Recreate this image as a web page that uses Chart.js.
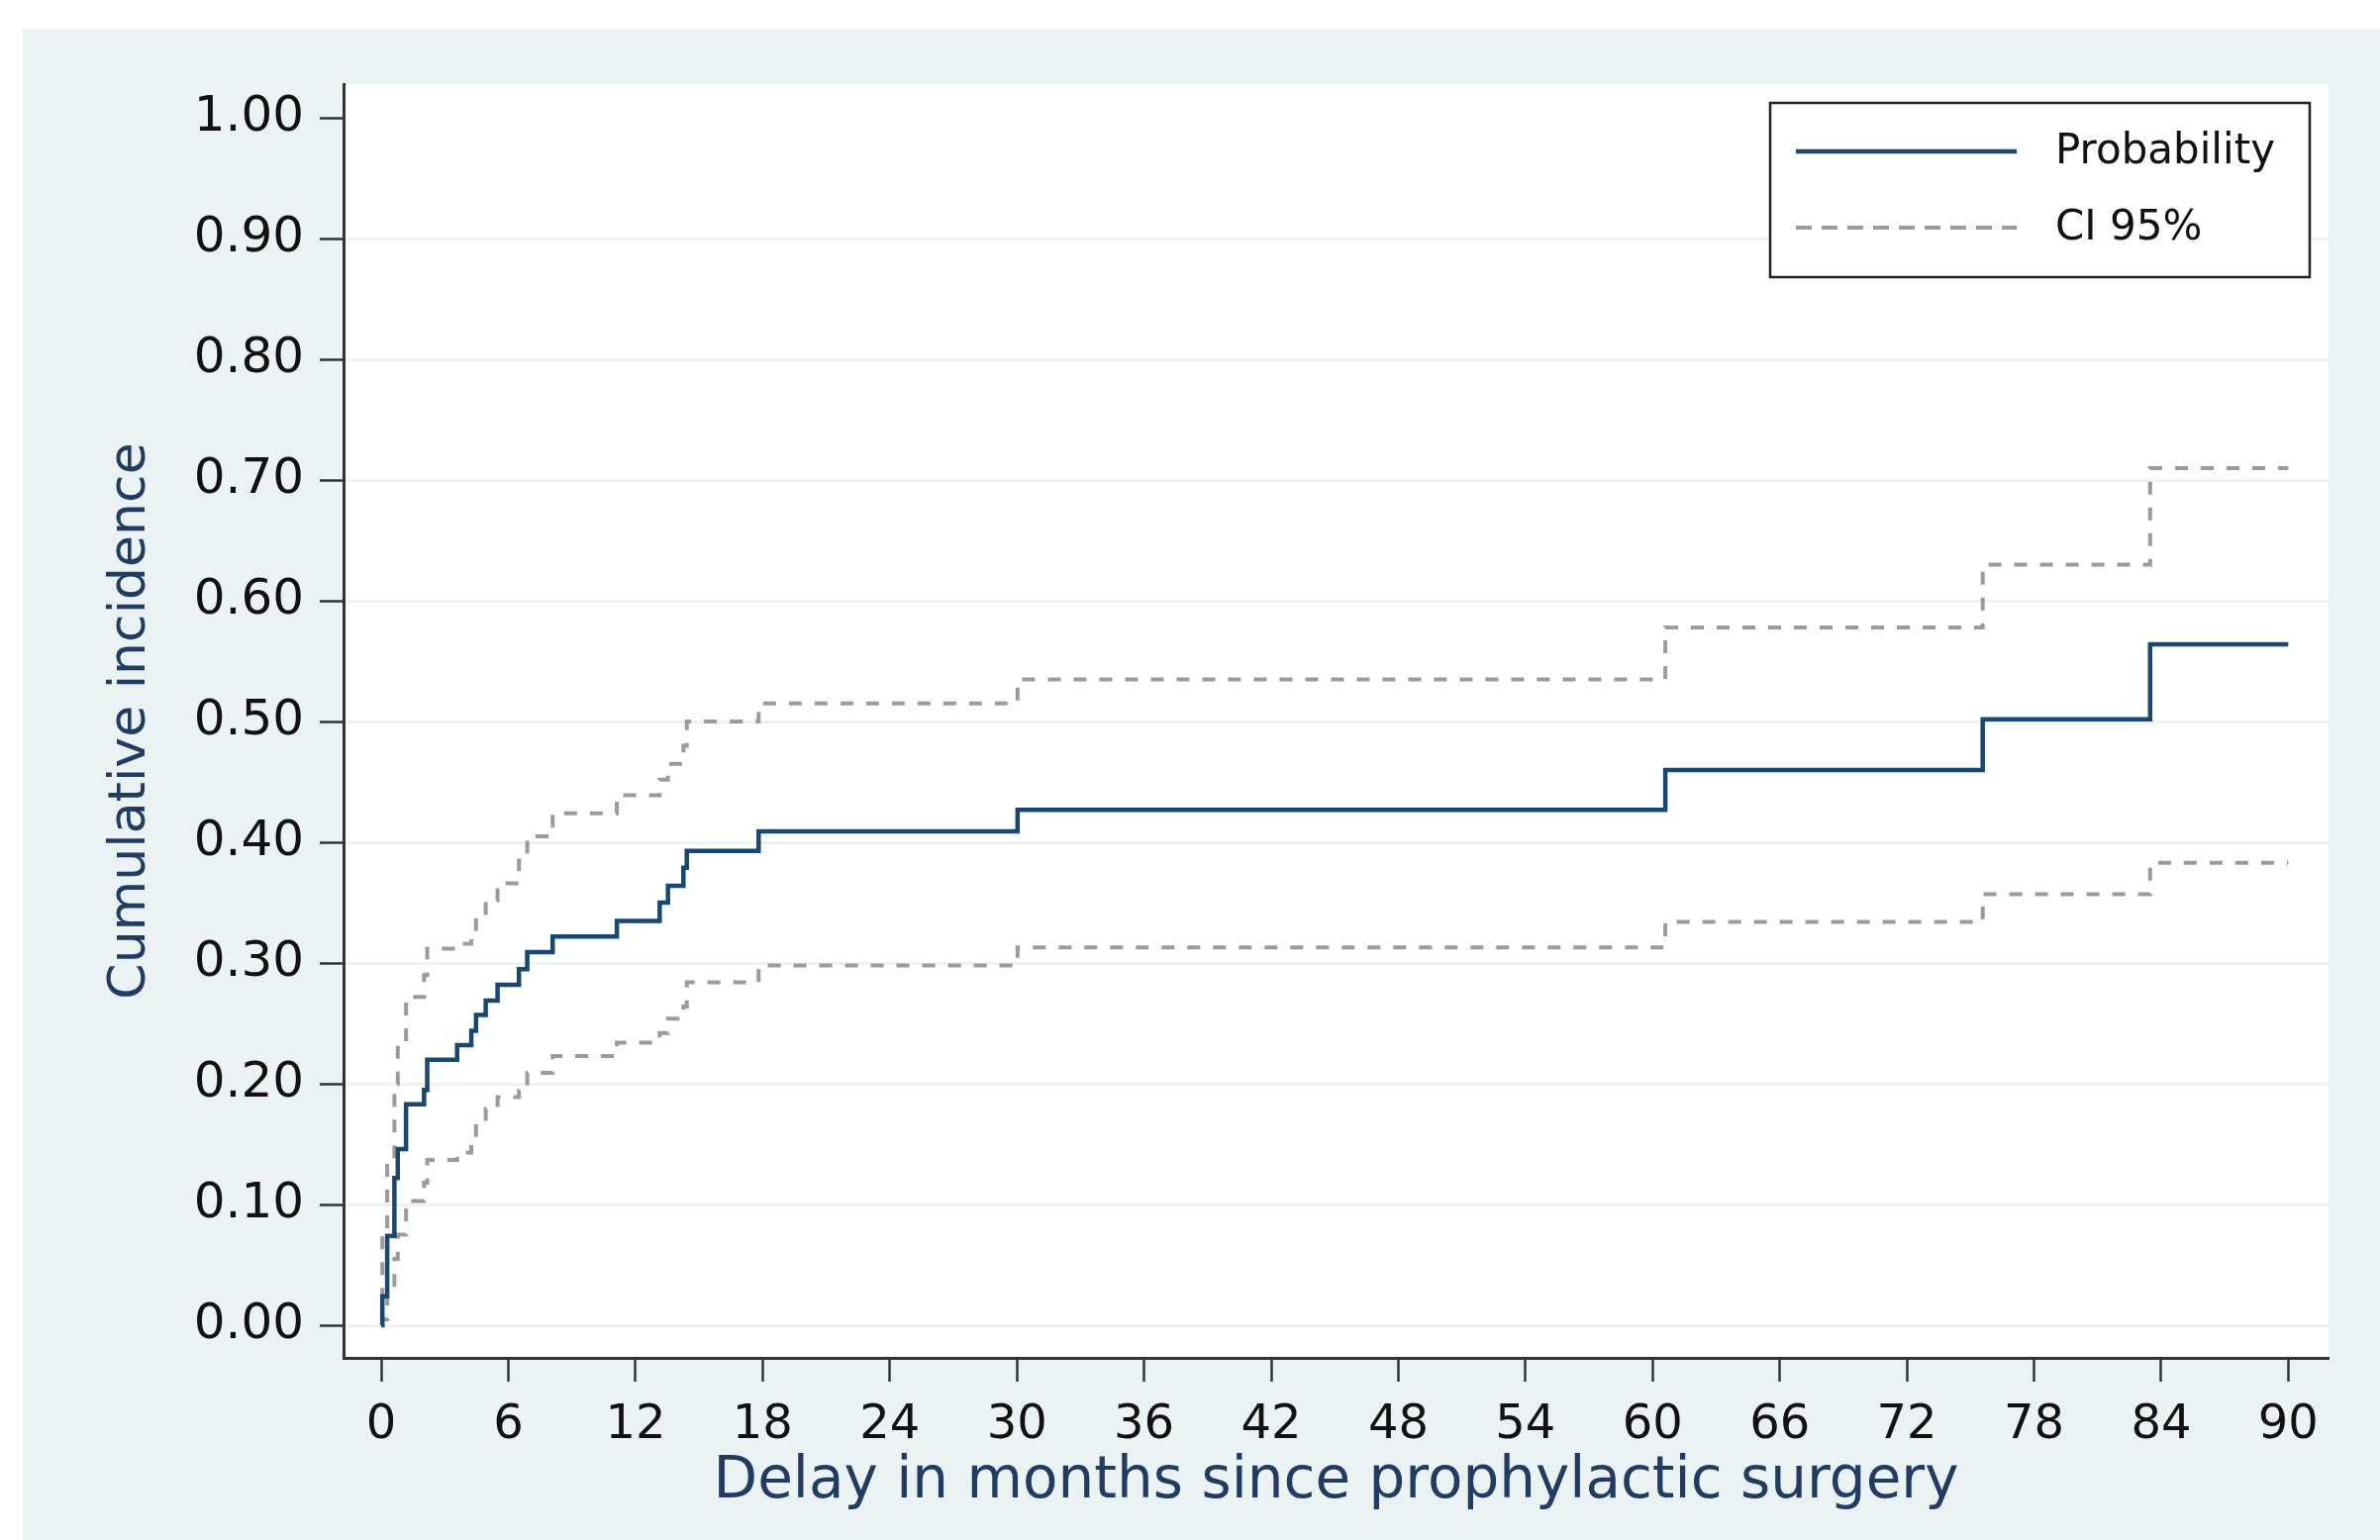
<!DOCTYPE html>
<html>
<head>
<meta charset="utf-8">
<title>Cumulative incidence</title>
<script src="https://cdn.jsdelivr.net/npm/chart.js@4.4.1/dist/chart.umd.min.js"></script>
<style>
  html, body { margin: 0; padding: 0; background: #ffffff; }
  #wrap { width: 2404px; height: 1556px; }
</style>
</head>
<body>
<div id="wrap"><canvas id="kmChart" width="2404" height="1556"></canvas></div>
<script>
// step times (months) and the three curves
const months = [0, 0.05, 0.28, 0.62, 0.78, 1.17, 2.02, 2.17, 3.58, 4.25, 4.47, 4.93, 5.49, 6.5, 6.89, 8.09, 11.12, 13.14, 13.53, 14.26, 14.42, 17.81, 30.03, 60.6, 75.58, 83.48, 90];
const probability = [0, 0.024, 0.074, 0.122, 0.146, 0.183, 0.195, 0.220, 0.232, 0.244, 0.257, 0.269, 0.282, 0.295, 0.309, 0.322, 0.335, 0.350, 0.364, 0.379, 0.393, 0.409, 0.427, 0.460, 0.502, 0.564, 0.564];
const ciUpper = [0, 0.075, 0.14, 0.20, 0.235, 0.272, 0.29, 0.312, 0.316, 0.325, 0.338, 0.352, 0.366, 0.385, 0.405, 0.424, 0.439, 0.452, 0.465, 0.48, 0.50, 0.515, 0.535, 0.578, 0.630, 0.710, 0.710];
const ciLower = [0, 0.005, 0.03, 0.055, 0.075, 0.103, 0.118, 0.137, 0.143, 0.153, 0.169, 0.179, 0.189, 0.194, 0.209, 0.223, 0.234, 0.242, 0.254, 0.264, 0.284, 0.298, 0.313, 0.334, 0.357, 0.383, 0.383];

const xTicks = [0, 6, 12, 18, 24, 30, 36, 42, 48, 54, 60, 66, 72, 78, 84, 90];
const yTicks = [0, 0.1, 0.2, 0.3, 0.4, 0.5, 0.6, 0.7, 0.8, 0.9, 1.0];

const NAVY = '#1a476f';
const CI_GRAY = '#9b9b9b';
const PANEL = '#eaf2f3';

const toPoints = vals => months.map((m, i) => ({ x: m, y: vals[i] }));

Chart.defaults.font.family = "'DejaVu Sans', sans-serif";

// light panel behind everything, white plot region
const background = {
    id: 'background',
    beforeDraw(chart) {
        const { ctx, chartArea: a } = chart;
        ctx.save();
        ctx.fillStyle = '#ffffff';
        ctx.fillRect(0, 0, chart.width, chart.height);
        ctx.fillStyle = PANEL;
        ctx.fillRect(23, 29, chart.width - 23, chart.height - 29);
        ctx.fillStyle = '#ffffff';
        ctx.fillRect(a.left, a.top, a.right - a.left, a.bottom - a.top);
        ctx.restore();
    }
};

// boxed legend in the top right corner, like Stata's
const boxLegend = {
    id: 'boxLegend',
    afterDraw(chart) {
        const { ctx, chartArea: a } = chart;
        const w = 545, h = 176;
        const x0 = a.right - 19 - w, y0 = a.top + 19;
        ctx.save();
        ctx.fillStyle = '#ffffff';
        ctx.fillRect(x0, y0, w, h);
        ctx.strokeStyle = '#222222';
        ctx.lineWidth = 2.5;
        ctx.strokeRect(x0, y0, w, h);

        const items = chart.data.datasets.slice(0, 2);
        const rows = [y0 + 49, y0 + 126];
        items.forEach((ds, i) => {
            ctx.beginPath();
            ctx.setLineDash(i === 0 ? [] : [16, 10]);
            ctx.strokeStyle = ds.borderColor;
            ctx.lineWidth = ds.borderWidth;
            ctx.moveTo(x0 + 26, rows[i]);
            ctx.lineTo(x0 + 249, rows[i]);
            ctx.stroke();
            ctx.setLineDash([]);
            ctx.fillStyle = '#111111';
            ctx.font = "42px 'DejaVu Sans'";
            ctx.textBaseline = 'middle';
            ctx.fillText(ds.label, x0 + 288, rows[i] + 1);
        });
        ctx.restore();
    }
};

const chart = new Chart(document.getElementById('kmChart').getContext('2d'), {
    type: 'line',
    data: {
        datasets: [
            {
                label: 'Probability',
                data: toPoints(probability),
                borderColor: NAVY,
                borderWidth: 4.5,
                stepped: true,
                pointRadius: 0,
                order: 0
            },
            {
                label: 'CI 95%',
                data: toPoints(ciUpper),
                borderColor: CI_GRAY,
                borderWidth: 4,
                borderDash: [13, 13],
                stepped: true,
                pointRadius: 0,
                order: 1
            },
            {
                label: 'CI 95% lower',
                data: toPoints(ciLower),
                borderColor: CI_GRAY,
                borderWidth: 4,
                borderDash: [13, 13],
                stepped: true,
                pointRadius: 0,
                order: 1
            }
        ]
    },
    options: {
        responsive: false,
        animation: false,
        devicePixelRatio: 1,
        layout: { padding: { top: 85, right: 52, left: 0, bottom: 0 } },
        plugins: {
            legend: { display: false },
            title: { display: false },
            tooltip: { enabled: false }
        },
        scales: {
            x: {
                type: 'linear',
                min: -1.78,
                max: 91.9,
                afterBuildTicks: s => { s.ticks = xTicks.map(v => ({ value: v })); },
                afterFit: s => { s.height = 184; },
                grid: {
                    drawOnChartArea: false,
                    drawTicks: true,
                    tickLength: 24,
                    tickWidth: 2.5,
                    tickColor: '#333333'
                },
                border: { display: true, color: '#333333', width: 3 },
                ticks: {
                    autoSkip: false,
                    maxRotation: 0,
                    padding: 16,
                    color: '#111111',
                    font: { size: 48 },
                    callback: v => String(v)
                },
                title: {
                    display: true,
                    text: 'Delay in months since prophylactic surgery',
                    color: '#213b63',
                    font: { size: 58 },
                    padding: { top: 0, bottom: 23 }
                }
            },
            y: {
                type: 'linear',
                min: -0.027,
                max: 1.028,
                afterBuildTicks: s => { s.ticks = yTicks.map(v => ({ value: v })); },
                afterFit: s => { s.width = 347; },
                grid: {
                    color: c => (c.tick && c.tick.value >= 0.999 ? 'rgba(0,0,0,0)' : PANEL),
                    lineWidth: 3,
                    drawTicks: true,
                    tickLength: 24,
                    tickWidth: 2.5,
                    tickColor: '#333333'
                },
                border: { display: true, color: '#333333', width: 3 },
                ticks: {
                    autoSkip: false,
                    padding: 16,
                    color: '#111111',
                    font: { size: 50 },
                    callback: v => v.toFixed(2)
                },
                title: {
                    display: true,
                    text: 'Cumulative incidence',
                    color: '#213b63',
                    font: { size: 52 },
                    padding: { top: 101, bottom: 0 }
                }
            }
        }
    },
    plugins: [background, boxLegend]
});
</script>
</body>
</html>
